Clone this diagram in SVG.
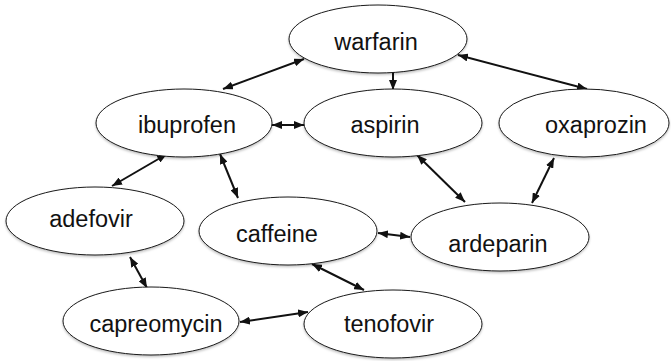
<svg xmlns="http://www.w3.org/2000/svg" width="671" height="361" viewBox="0 0 671 361">
  <style>
    .node ellipse { fill: #ffffff; stroke: #1a1a1a; stroke-width: 1; filter: url(#shadow); }
    .node text { font-family: "Liberation Sans", Arial, sans-serif; font-size: 23.5px; fill: #111111; text-anchor: middle; }
    .edge { stroke: #111111; stroke-width: 2; fill: none; }
    .both { marker-start: url(#head); marker-end: url(#head); }
    .one { marker-end: url(#head); }
  </style>
  <defs>
    <filter id="shadow" x="-10%" y="-10%" width="120%" height="130%">
      <feDropShadow dx="0" dy="1.5" stdDeviation="1" flood-color="#000000" flood-opacity="0.25"/>
    </filter>
    <marker id="head" viewBox="0 0 10 8" refX="10" refY="4" markerWidth="10" markerHeight="8" markerUnits="userSpaceOnUse" orient="auto-start-reverse">
      <path d="M0,0 L10,4 L0,8 Z" fill="#111111"/>
    </marker>
  </defs>

  <rect width="671" height="361" fill="#ffffff"/>

  <g id="connectors">
    <line class="edge both" x1="223" y1="89" x2="304" y2="59"/>
    <line class="edge both" x1="272" y1="125" x2="304" y2="125"/>
    <line class="edge one" x1="393" y1="72" x2="393" y2="90"/>
    <line class="edge both" x1="458" y1="55" x2="587" y2="89"/>
    <line class="edge both" x1="112" y1="186" x2="167" y2="154"/>
    <line class="edge both" x1="220" y1="154" x2="238" y2="198"/>
    <line class="edge both" x1="417" y1="155" x2="465" y2="202"/>
    <line class="edge both" x1="554" y1="158" x2="532" y2="203"/>
    <line class="edge both" x1="378" y1="233" x2="410" y2="237"/>
    <line class="edge both" x1="130" y1="257" x2="147" y2="288"/>
    <line class="edge both" x1="240" y1="322" x2="308" y2="312"/>
    <line class="edge both" x1="312" y1="264" x2="364" y2="290"/>
  </g>

  <g id="warfarin" class="node">
    <ellipse cx="378" cy="39" rx="89" ry="34"/>
    <text x="376" y="50">warfarin</text>
  </g>
  <g id="ibuprofen" class="node">
    <ellipse cx="184" cy="123" rx="88" ry="34"/>
    <text x="187" y="133">ibuprofen</text>
  </g>
  <g id="aspirin" class="node">
    <ellipse cx="393" cy="123" rx="89" ry="34"/>
    <text x="385" y="133">aspirin</text>
  </g>
  <g id="oxaprozin" class="node">
    <ellipse cx="584" cy="123" rx="85" ry="34"/>
    <text x="596" y="133">oxaprozin</text>
  </g>
  <g id="adefovir" class="node">
    <ellipse cx="95" cy="221" rx="89" ry="34"/>
    <text x="91" y="227">adefovir</text>
  </g>
  <g id="caffeine" class="node">
    <ellipse cx="288" cy="231" rx="89" ry="34"/>
    <text x="277" y="242">caffeine</text>
  </g>
  <g id="ardeparin" class="node">
    <ellipse cx="500" cy="237" rx="89" ry="34"/>
    <text x="498" y="252">ardeparin</text>
  </g>
  <g id="capreomycin" class="node">
    <ellipse cx="151" cy="321" rx="88" ry="34"/>
    <text x="156" y="332">capreomycin</text>
  </g>
  <g id="tenofovir" class="node">
    <ellipse cx="393" cy="324" rx="89" ry="34"/>
    <text x="389" y="332">tenofovir</text>
  </g>
</svg>
